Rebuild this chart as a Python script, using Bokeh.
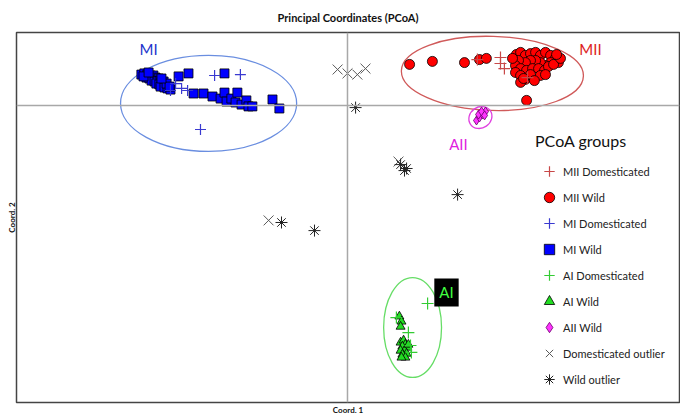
from bokeh.plotting import figure
from bokeh.models import Span, Label, Legend, LegendItem, Title, Range1d
from bokeh.embed import file_html
from bokeh.resources import INLINE

FONT = "Lato"

# ---- data (Coord. 1, Coord. 2) ----
mi_wild_x = [-0.687, -0.677, -0.667, -0.657, -0.647, -0.670, -0.660, -0.650, -0.640, -0.630,
             -0.653, -0.643, -0.633, -0.623, -0.613, -0.637, -0.627, -0.617, -0.607, -0.623,
             -0.610, -0.600, -0.590, -0.603, -0.593, -0.680, -0.663, -0.620,
             -0.563, -0.530, -0.410, -0.513, -0.480, -0.450, -0.423, -0.410, -0.403, -0.387,
             -0.373, -0.367, -0.353, -0.337, -0.330, -0.317, -0.250, -0.227]
mi_wild_y = [0.103, 0.107, 0.103, 0.100, 0.100, 0.093, 0.090, 0.090, 0.093, 0.090,
             0.083, 0.080, 0.080, 0.083, 0.080, 0.073, 0.070, 0.070, 0.067, 0.063,
             0.060, 0.057, 0.053, 0.073, 0.063, 0.097, 0.110, 0.090,
             0.097, 0.107, 0.107, 0.040, 0.040, 0.030, 0.023, 0.043, 0.013, 0.023,
             0.010, 0.043, 0.003, 0.017, -0.003, -0.003, 0.020, -0.010]

mi_dom_x = [-0.443, -0.357, -0.533, -0.490, -0.573, -0.590, -0.553]
mi_dom_y = [0.100, 0.103, 0.050, -0.080, 0.073, 0.050, 0.057]

mii_wild_x = [0.207, 0.283, 0.390, 0.440, 0.463, 0.597, 0.593,
              0.563, 0.577, 0.593, 0.610, 0.627, 0.643, 0.660, 0.677, 0.693, 0.703,
              0.677, 0.660, 0.643, 0.627, 0.610, 0.593, 0.570, 0.560, 0.577, 0.597,
              0.617, 0.637, 0.657, 0.670, 0.687, 0.560, 0.577, 0.610, 0.643, 0.660,
              0.577, 0.587, 0.623, 0.550, 0.710, 0.697]
mii_wild_y = [0.137, 0.147, 0.143, 0.153, 0.157, 0.017, 0.087,
              0.170, 0.177, 0.167, 0.173, 0.177, 0.167, 0.177, 0.167, 0.157, 0.143,
              0.143, 0.133, 0.143, 0.150, 0.150, 0.143, 0.150, 0.133, 0.123, 0.117,
              0.123, 0.123, 0.117, 0.130, 0.137, 0.110, 0.100, 0.103, 0.100, 0.103,
              0.077, 0.090, 0.083, 0.157, 0.157, 0.170]

mii_dom_x = [0.433, 0.510, 0.523, 0.600, 0.510]
mii_dom_y = [0.153, 0.160, 0.123, 0.093, 0.140]

aii_wild_x = [0.430, 0.440, 0.450, 0.460, 0.437, 0.447, 0.457]
aii_wild_y = [-0.050, -0.040, -0.030, -0.020, -0.030, -0.020, -0.033]

ai_wild_x = [0.173, 0.180, 0.177, 0.177, 0.187, 0.193, 0.183, 0.200, 0.190, 0.177,
             0.197, 0.183, 0.193, 0.180, 0.203]
ai_wild_y = [-0.703, -0.720, -0.737, -0.790, -0.783, -0.797, -0.803, -0.807, -0.817, -0.817,
             -0.827, -0.830, -0.840, -0.840, -0.797]

ai_dom_x = [0.267, 0.203, 0.163, 0.210, 0.213]
ai_dom_y = [-0.660, -0.757, -0.707, -0.800, -0.823]

dom_out_x = [-0.033, 0.000, 0.033, 0.060, -0.263, 0.170]
dom_out_y = [0.120, 0.107, 0.103, 0.123, -0.383, -0.187]

wild_out_x = [0.027, -0.220, -0.110, 0.177, 0.190, 0.197, 0.367]
wild_out_y = [-0.007, -0.390, -0.417, -0.197, -0.217, -0.210, -0.297]

# group ellipses: name, cx, cy, width, height, angle
group_names = ["MI", "MII", "AII", "AI"]
group_cx = [-0.463, 0.483, 0.443, 0.217]
group_cy = [0.007, 0.107, -0.040, -0.740]
group_w = [0.587, 0.607, 0.080, 0.193]
group_h = [0.320, 0.247, 0.070, 0.333]
group_angle = [0.0, -0.03, 0.6, 0.0]
group_line = ["#6a8ee0", "#d05a5a", "#e040e0", "#66dd66"]

# group label positions
label_x = [-0.663, 0.810, 0.370, 0.330]
label_y = [0.187, 0.187, -0.127, -0.623]

p = figure(width=680, height=415, output_backend="svg", toolbar_location=None,
           x_range=Range1d(-1.1033, 1.1067), y_range=Range1d(-0.99, 0.2433),
           x_axis_location=None, y_axis_location=None,
           min_border_left=16, min_border_right=1, min_border_top=31, min_border_bottom=13)
p.grid.visible = False
p.background_fill_color = "white"
p.outline_line_color = "#444444"
p.outline_line_width = 1.5

p.title.text = "Principal Coordinates (PCoA)"
p.title.align = "center"
p.title.text_font = FONT
p.title.text_font_size = "11px"
p.title.text_font_style = "bold"
p.title.text_color = "#111111"
p.title.standoff = 17

p.add_layout(Title(text="Coord. 1", align="center", text_font=FONT, text_font_size="8px",
                   text_font_style="bold", standoff=0, text_color="#111111"), "below")
p.add_layout(Title(text="Coord. 2", align="center", text_font=FONT, text_font_size="8px",
                   text_font_style="bold", standoff=0, text_color="#111111"), "left")

p.add_layout(Span(location=0, dimension="height", line_color="#a8a8a8", line_width=1.5))
p.add_layout(Span(location=0, dimension="width", line_color="#a8a8a8", line_width=1.5))

for i in range(len(group_names)):
    p.ellipse(x=[group_cx[i]], y=[group_cy[i]], width=[group_w[i]], height=[group_h[i]],
              angle=[group_angle[i]], fill_color=None, line_color=group_line[i], line_width=1.3)

r_dom_out = p.scatter(dom_out_x, dom_out_y, marker="x", size=14, line_color="#5a5a5a", line_width=1)
r_wild_out = p.scatter(wild_out_x, wild_out_y, marker="asterisk", size=12, line_color="#222222", line_width=1)
r_mi_wild = p.scatter(mi_wild_x, mi_wild_y, marker="square", size=9, fill_color="#0000ff",
                      line_color="#000000", line_width=0.8)
r_mi_dom = p.scatter(mi_dom_x, mi_dom_y, marker="cross", size=11, line_color="#3a3ad0", line_width=1.2)
r_mii_wild = p.scatter(mii_wild_x, mii_wild_y, marker="circle", size=10, fill_color="#ff0000",
                       line_color="#000000", line_width=0.8)
r_mii_dom = p.scatter(mii_dom_x, mii_dom_y, marker="cross", size=12, line_color="#c84848", line_width=1.2)
r_aii_wild = p.scatter(aii_wild_x, aii_wild_y, marker="diamond", size=9, fill_color="#ff33ff",
                       line_color="#6a006a", line_width=0.8)
r_ai_wild = p.scatter(ai_wild_x, ai_wild_y, marker="triangle", size=9, fill_color="#22dd22",
                      line_color="#000000", line_width=0.8)
r_ai_dom = p.scatter(ai_dom_x, ai_dom_y, marker="cross", size=12, line_color="#33cc33", line_width=1.2)

label_colors = ["#2233cc", "#dd2222", "#e020e0", "#40ff40"]
for i in range(len(group_names)):
    kw = {}
    if group_names[i] == "AI":
        kw = dict(background_fill_color="black", padding=5)
    p.add_layout(Label(x=label_x[i], y=label_y[i], text=group_names[i], text_font=FONT,
                       text_font_size="15px", text_color=label_colors[i],
                       text_align="center", text_baseline="middle", **kw))

legend = Legend(items=[
    LegendItem(label="MII Domesticated", renderers=[r_mii_dom]),
    LegendItem(label="MII Wild", renderers=[r_mii_wild]),
    LegendItem(label="MI Domesticated", renderers=[r_mi_dom]),
    LegendItem(label="MI Wild", renderers=[r_mi_wild]),
    LegendItem(label="AI Domesticated", renderers=[r_ai_dom]),
    LegendItem(label="AI Wild", renderers=[r_ai_wild]),
    LegendItem(label="AII Wild", renderers=[r_aii_wild]),
    LegendItem(label="Domesticated outlier", renderers=[r_dom_out]),
    LegendItem(label="Wild outlier", renderers=[r_wild_out]),
], location=(519, 10), title="PCoA groups", title_text_font=FONT, title_text_font_size="16px",
    title_text_font_style="normal", title_text_color="#111111", title_standoff=8,
    label_text_font=FONT, label_text_font_size="11px", label_text_color="#222222",
    glyph_width=28, glyph_height=26, spacing=0, label_standoff=0, padding=0, margin=0,
    border_line_color=None, background_fill_alpha=0)
p.add_layout(legend)

open("out.html", "w").write(file_html(p, INLINE))
